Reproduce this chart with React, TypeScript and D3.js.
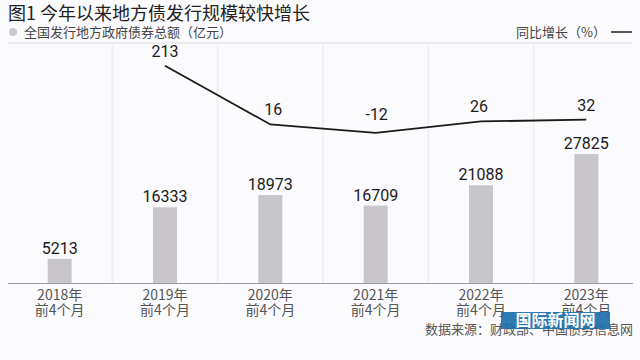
import React from "react";
import * as d3 from "d3";

const categories = ["2018年", "2019年", "2020年", "2021年", "2022年", "2023年"];
const subLabel = "前4个月";
const totals = [5213, 16333, 18973, 16709, 21088, 27825];
const growth = [null, 213, 16, -12, 26, 32];

const W = 640;
const H = 360;
const FONT = "'Noto Sans CJK SC', 'Noto Sans', sans-serif";

export default function App() {
  const x = d3.scaleBand<string>().domain(categories).range([7, 639]).padding(0);
  const yBar = d3.scaleLinear().domain([0, 60000]).range([283, 5]);
  const yLine = d3.scaleLinear().domain([0, 213]).range([129.2, 65.7]);
  const bw = 24;
  const cx = (c: string) => (x(c) as number) + x.bandwidth() / 2;

  const linePts = categories
    .map((c, i) => ({ c, v: growth[i] }))
    .filter((d) => d.v !== null) as { c: string; v: number }[];
  const lineGen = d3
    .line<{ c: string; v: number }>()
    .x((d) => cx(d.c))
    .y((d) => yLine(d.v));

  const labelOffsets: Record<string, [number, number]> = {
    "2019年": [0, -9],
    "2020年": [3, -9],
    "2021年": [1, -9],
    "2022年": [-2, -9],
    "2023年": [0, -9],
  };

  return (
    <svg
      width={W}
      height={H}
      style={{ position: "absolute", left: 0, top: 0, background: "#fbfbfd" }}
      fontFamily={FONT}
    >
      <rect x={0} y={0} width={W} height={H} fill="#fbfbfd" />
      {/* faint band separators */}
      {categories.slice(1).map((c) => (
        <line
          key={"sep" + c}
          x1={x(c) as number}
          x2={x(c) as number}
          y1={45}
          y2={283}
          stroke="#eef0f4"
          strokeWidth={2}
        />
      ))}
      {/* title */}
      <text x={8} y={20} fontSize={18} fill="#222" fontWeight={400}>
        图1 今年以来地方债发行规模较快增长
      </text>
      <circle cx={13} cy={32} r={4} fill="#c9c9cc" />
      <text x={24} y={37} fontSize={13} fill="#444">
        全国发行地方政府债券总额（亿元）
      </text>
      <text x={606} y={37} fontSize={13} fill="#444" textAnchor="end">
        同比增长（%）
      </text>
      <line x1={611} x2={632} y1={32} y2={32} stroke="#222" strokeWidth={1.5} />
      <line x1={8} x2={632} y1={43} y2={43} stroke="#dcdcdf" strokeWidth={1} />

      {/* bars */}
      {categories.map((c, i) => (
        <g key={"bar" + c}>
          <rect
            x={cx(c) - bw / 2}
            y={yBar(totals[i])}
            width={bw}
            height={yBar(0) - yBar(totals[i])}
            fill="#c8c6cb"
          />
          <text
            x={cx(c)}
            y={yBar(totals[i]) - 5}
            textAnchor="middle"
            fontSize={16}
            fill="#1a1a1a"
            fontFamily="Roboto, 'Noto Sans', sans-serif"
          >
            {totals[i]}
          </text>
        </g>
      ))}

      {/* baseline */}
      <line x1={8} x2={633} y1={283.5} y2={283.5} stroke="#9a9a9e" strokeWidth={1} />

      {/* x labels */}
      {categories.map((c) => (
        <g key={"xl" + c}>
          <text x={cx(c)} y={300} textAnchor="middle" fontSize={14} fill="#555">
            {c}
          </text>
          <text x={cx(c)} y={315} textAnchor="middle" fontSize={14} fill="#555">
            {subLabel}
          </text>
        </g>
      ))}

      {/* growth line */}
      <path d={lineGen(linePts) || ""} fill="none" stroke="#1a1a1a" strokeWidth={1.8} />
      {linePts.map((d) => (
        <text
          key={"gl" + d.c}
          x={cx(d.c) + labelOffsets[d.c][0]}
          y={yLine(d.v) + labelOffsets[d.c][1] - (d.v < 0 ? 4 : 0)}
          textAnchor="middle"
          fontSize={16}
          fill="#1a1a1a"
          fontFamily="Roboto, 'Noto Sans', sans-serif"
        >
          {d.v}
        </text>
      ))}

      {/* source */}
      <text x={633} y={334} textAnchor="end" fontSize={13} fill="#555">
        数据来源：财政部、中国债务信息网
      </text>
      {/* watermark */}
      <rect x={501} y={312} width={109} height={17} fill="#1e6fae" opacity={0.92} />
      <text x={555.5} y={326} textAnchor="middle" fontSize={16} fill="#ffffff" fontWeight={700}>
        国际新闻网
      </text>
    </svg>
  );
}
